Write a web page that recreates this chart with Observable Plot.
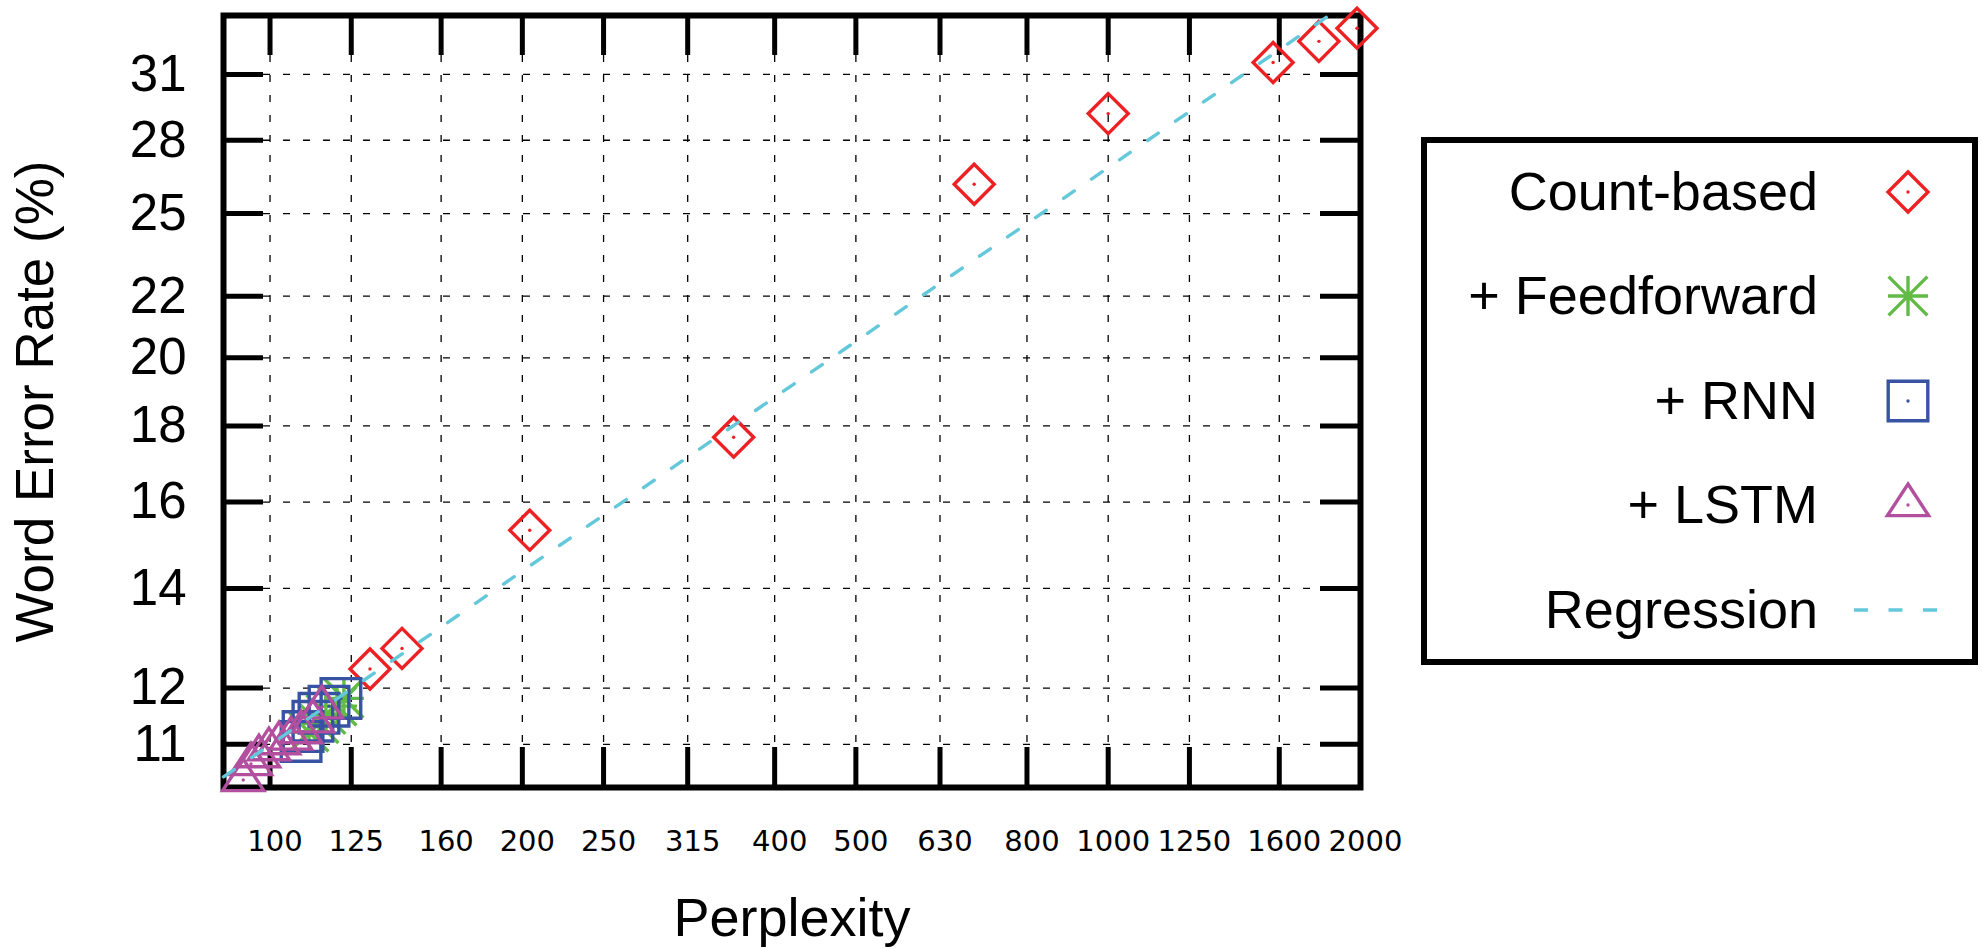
<!DOCTYPE html>
<html>
<head>
<meta charset="utf-8">
<script src="https://cdn.jsdelivr.net/npm/d3@7"></script>
<script src="https://cdn.jsdelivr.net/npm/@observablehq/plot@0.6"></script>
<style>
  html, body { margin: 0; padding: 0; background: white; }
  #wrap { position: relative; width: 1982px; height: 949px; }
  #legend { position: absolute; left: 0; top: 0; pointer-events: none; }
</style>
</head>
<body>
<div id="wrap"></div>
<script>
// ---------- data ----------
const xTicks = [100, 125, 160, 200, 250, 315, 400, 500, 630, 800, 1000, 1250, 1600, 2000];
const yTicks = [11, 12, 14, 16, 18, 20, 22, 25, 28, 31];

const countPpl = [131.6, 143.7, 204.1, 357.4, 692, 1000, 1573, 1784, 1981];
const countWer = [12.36, 12.76, 15.32, 17.69, 26.16, 29.18, 31.58, 32.63, 33.30];

const ffPpl = [122.5, 120.2, 116.6, 114.4, 111.3];
const ffWer = [11.81, 11.67, 11.52, 11.36, 11.21];

const rnnPpl = [121.5, 117.6, 114.4, 112.5, 109.5, 108.9];
const rnnWer = [11.81, 11.67, 11.54, 11.40, 11.22, 11.05];

const lstmPpl = [115.3, 112.5, 108.9, 105.9, 102.5, 99.7, 97.0, 94.9, 92.9];
const lstmWer = [11.65, 11.40, 11.21, 11.10, 11.02, 10.92, 10.80, 10.67, 10.41];

const regPpl = [88, 1826];
const regWer = [10.46, 33.9];

const seriesNames = ["Count-based", "+ Feedforward", "+ RNN", "+ LSTM", "Regression"];
const seriesColors = ["#ED2024", "#62BB46", "#3953A4", "#B24F9F", "#63C8DA"];

// ---------- helpers ----------
const table = (xs, ys) => xs.map((p, i) => ({ppl: p, wer: ys[i]}));
const count = table(countPpl, countWer);
const ff = table(ffPpl, ffWer);
const rnn = table(rnnPpl, rnnWer);
const lstm = table(lstmPpl, lstmWer);
const reg = table(regPpl, regWer);

// custom symbols (gnuplot-like point types)
const rOf = (size) => Math.sqrt(size / Math.PI);
const symDiamond = {draw(c, s) { const r = rOf(s); c.moveTo(0, -r); c.lineTo(r, 0); c.lineTo(0, r); c.lineTo(-r, 0); c.closePath(); }};
const symSquare = {draw(c, s) { const r = rOf(s) * 0.99; c.moveTo(-r, -r); c.lineTo(r, -r); c.lineTo(r, r); c.lineTo(-r, r); c.closePath(); }};
const symTriangle = {draw(c, s) { const r = rOf(s); c.moveTo(0, -1.05 * r); c.lineTo(1.03 * r, 0.53 * r); c.lineTo(-1.03 * r, 0.53 * r); c.closePath(); }};
const symAsterisk = {draw(c, s) { const r = rOf(s); const d = 0.97 * r;
  c.moveTo(-r, 0); c.lineTo(r, 0); c.moveTo(0, -r); c.lineTo(0, r);
  c.moveTo(-d, -d); c.lineTo(d, d); c.moveTo(-d, d); c.lineTo(d, -d); }};
const symbols = [symDiamond, symAsterisk, symSquare, symTriangle];

const W = 1982, H = 949;
const mL = 223, mR = 622, mT = 15, mB = 162;
const frameW = W - mL - mR, frameH = H - mT - mB;
const tickLen = 40;
const R = 20;

const sansFont = "'Liberation Sans', Arial, Helvetica, sans-serif";
const tickFont = "'DejaVu Sans', Verdana, sans-serif";

const seriesMarks = (data, i) => [
  Plot.dot(data, {x: "ppl", y: "wer", symbol: symbols[i], r: R, stroke: seriesColors[i], strokeWidth: 3.4, fill: "none"}),
  Plot.dot(data, {x: "ppl", y: "wer", r: 1.7, fill: seriesColors[i], stroke: "none"})
];

const chart = Plot.plot({
  width: W, height: H,
  marginLeft: mL, marginRight: mR, marginTop: mT, marginBottom: mB,
  style: {background: "white", fontFamily: sansFont, overflow: "visible"},
  x: {type: "log", domain: [88, 2000], nice: false, axis: null},
  y: {type: "log", domain: [10.29, 33.96], nice: false, axis: null},
  marks: [
    // dashed grid
    Plot.ruleX(xTicks, {x: d => d, stroke: "black", strokeWidth: 1.3, strokeDasharray: "7,13"}),
    Plot.ruleY(yTicks, {y: d => d, stroke: "black", strokeWidth: 1.3, strokeDasharray: "7,13"}),
    // inward major ticks
    Plot.ruleX(xTicks, {x: d => d, insetBottom: frameH - tickLen, stroke: "black", strokeWidth: 5}),
    Plot.ruleX(xTicks, {x: d => d, insetTop: frameH - tickLen, stroke: "black", strokeWidth: 5}),
    Plot.ruleY(yTicks, {y: d => d, insetRight: frameW - tickLen, stroke: "black", strokeWidth: 5}),
    Plot.ruleY(yTicks, {y: d => d, insetLeft: frameW - tickLen, stroke: "black", strokeWidth: 5}),
    Plot.frame({stroke: "black", strokeWidth: 6}),
    // tick labels
    Plot.text(xTicks, {x: d => d, text: d => String(d), frameAnchor: "bottom", lineAnchor: "middle", textAnchor: "middle",
      dy: 54, dx: 5, fontSize: 29, fontFamily: tickFont, fill: "black"}),
    Plot.text(yTicks, {y: d => d, text: d => String(d), frameAnchor: "left", lineAnchor: "middle", dx: -37, textAnchor: "end",
      fontSize: 51, fontFamily: sansFont, fill: "black"}),
    // axis titles
    Plot.text(["Perplexity"], {text: d => d, frameAnchor: "bottom", lineAnchor: "middle", textAnchor: "middle",
      dy: 131, fontSize: 54, fontFamily: sansFont, fill: "black"}),
    Plot.text(["Word Error Rate (%)"], {text: d => d, frameAnchor: "left", lineAnchor: "middle", textAnchor: "middle",
      rotate: -90, dx: -187, fontSize: 53, fontFamily: sansFont, fill: "black"}),
    // data
    ...seriesMarks(count, 0),
    ...seriesMarks(ff, 1),
    ...seriesMarks(rnn, 2),
    ...seriesMarks(lstm, 3),
    Plot.line(reg, {x: "ppl", y: "wer", stroke: seriesColors[4], strokeWidth: 3.4, strokeDasharray: "13,21"})
  ]
});
document.getElementById("wrap").appendChild(chart);

// ---------- legend (box on the right) ----------
const lg = d3.select("#wrap").append("svg").attr("id", "legend").attr("width", W).attr("height", H);
lg.append("rect").attr("x", 1424).attr("y", 140).attr("width", 551).attr("height", 522)
  .attr("fill", "white").attr("stroke", "black").attr("stroke-width", 6);
const baselines = [210, 314, 419, 523, 628];
const symY = [192, 296, 401, 505, 610];
seriesNames.forEach((name, i) => {
  lg.append("text").attr("x", 1818).attr("y", baselines[i]).attr("text-anchor", "end")
    .attr("font-family", sansFont).attr("font-size", 54).attr("fill", "black").text(name);
  if (i < 4) {
    const p = d3.path();
    symbols[i].draw(p, R * R * Math.PI);
    lg.append("path").attr("d", p.toString()).attr("transform", `translate(1908,${symY[i]})`)
      .attr("fill", "none").attr("stroke", seriesColors[i]).attr("stroke-width", 3.4);
    lg.append("circle").attr("cx", 1908).attr("cy", symY[i]).attr("r", 1.7).attr("fill", seriesColors[i]);
  } else {
    lg.append("line").attr("x1", 1854).attr("x2", 1945).attr("y1", symY[i]).attr("y2", symY[i])
      .attr("stroke", seriesColors[i]).attr("stroke-width", 3.4).attr("stroke-dasharray", "14,20.5");
  }
});
</script>
</body>
</html>
